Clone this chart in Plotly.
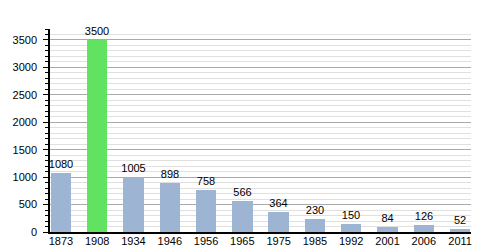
import plotly.graph_objects as go

years = ["1873", "1908", "1934", "1946", "1956", "1965", "1975", "1985", "1992", "2001", "2006", "2011"]
population = [1080, 3500, 1005, 898, 758, 566, 364, 230, 150, 84, 126, 52]
highlight = "1908"
y_ticks = [0, 500, 1000, 1500, 2000, 2500, 3000, 3500]

blue = "#9db5d2"
green = "#61e361"
colors = [green if y == highlight else blue for y in years]
xpos = list(range(len(years)))

fig = go.Figure()
fig.add_trace(go.Bar(
    x=xpos, y=population, width=0.565,
    marker=dict(color=colors, line=dict(width=0)),
    text=[str(v) for v in population], textposition="outside",
    constraintext="none",
    textfont=dict(family="Liberation Sans, Arial, sans-serif", size=11, color="black"),
    cliponaxis=False,
))

fig.update_layout(
    width=500, height=250,
    margin=dict(l=50, r=29, t=29, b=18),
    paper_bgcolor="white", plot_bgcolor="white",
    showlegend=False,
    bargap=0,
    font=dict(family="Liberation Sans, Arial, sans-serif", size=11, color="black"),
    xaxis=dict(
        tickmode="array", tickvals=xpos, ticktext=years,
        range=[-0.3, 11.3], showgrid=False, zeroline=False,
        showline=True, linecolor="black", linewidth=1.5,
        ticks="", ticklen=0, tickfont=dict(size=11), automargin=False,
        ticklabelstandoff=-2,
    ),
    yaxis=dict(
        range=[0, 3700], tickmode="array", tickvals=y_ticks,
        showgrid=True, gridcolor="#aaaaaa", gridwidth=1,
        zeroline=False, showline=True, linecolor="black", linewidth=1.5,
        ticks="outside", ticklen=5, tickcolor="black", tickwidth=1,
        tickfont=dict(size=11), automargin=False,
        ticklabelstandoff=4,
        minor=dict(dtick=100, tick0=0, showgrid=True, gridcolor="#e0e0e0",
                   gridwidth=1, ticks="outside", ticklen=3, tickcolor="black"),
    ),
)

fig.write_html("out.html")
